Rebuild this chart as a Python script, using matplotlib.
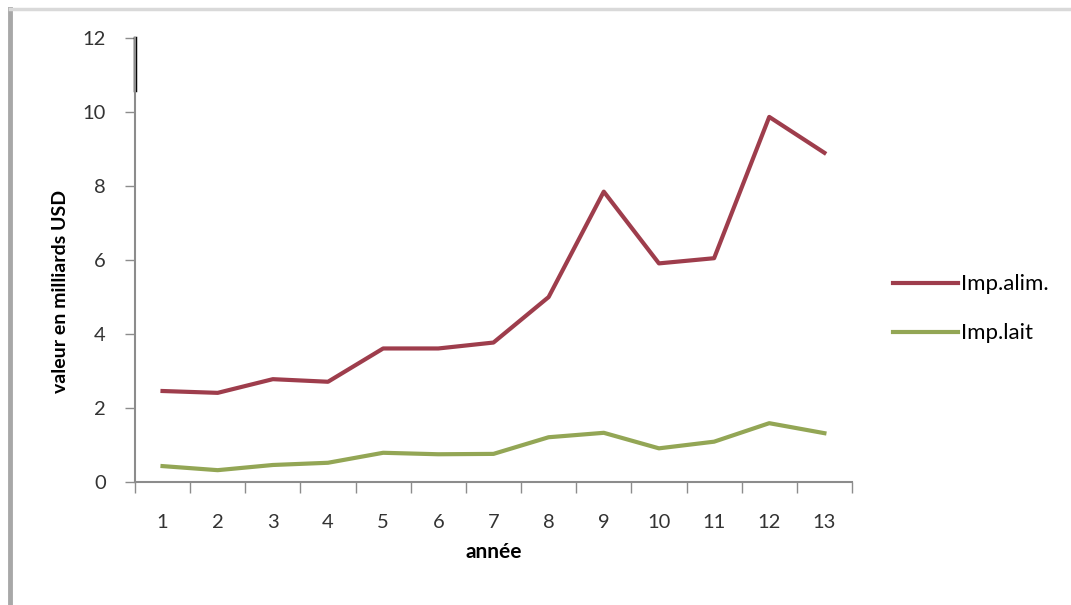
import matplotlib.pyplot as plt
from matplotlib.lines import Line2D

# Valeurs des importations (milliards USD) par annee
annees = list(range(1, 14))
imp_alim = [2.46, 2.41, 2.78, 2.71, 3.61, 3.61, 3.77, 5.0, 7.85, 5.91, 6.05, 9.87, 8.9]
imp_lait = [0.43, 0.32, 0.46, 0.52, 0.79, 0.75, 0.76, 1.21, 1.33, 0.91, 1.09, 1.59, 1.32]
y_ticks = [0, 2, 4, 6, 8, 10, 12]

rouge = '#9e3d4c'
vert = '#93a655'

plt.rcParams['font.family'] = ['Lato', 'DejaVu Sans']

fig = plt.figure(figsize=(10.71, 6.05), dpi=100)
ax = fig.add_axes([0.126, 0.2033, 0.6695, 0.7337])

ax.plot(annees, imp_alim, color=rouge, lw=3, label='Imp.alim.')
ax.plot(annees, imp_lait, color=vert, lw=3, label='Imp.lait')

ax.set_xlim(0.5, 13.5)
ax.set_ylim(0, 12)

# axes style tableur
for s in ['top', 'right']:
    ax.spines[s].set_visible(False)
ax.spines['left'].set_color('#8c8c8c')
ax.spines['bottom'].set_color('#8c8c8c')
ax.spines['left'].set_linewidth(1.5)
ax.spines['bottom'].set_linewidth(1.5)
ax.axvline(0.5, ymin=10.6 / 12, ymax=1, color='black', lw=2.5, clip_on=False)

ax.set_yticks(y_ticks)
ax.tick_params(axis='y', length=7, width=1, color='#8c8c8c', pad=14,
               labelsize=14.5, labelcolor='#333333')
ax.set_xticks(annees)
ax.set_xticks([a + 0.5 for a in range(0, 14)], minor=True)
ax.tick_params(axis='x', which='major', length=0, pad=23, labelsize=14.5,
               labelcolor='#333333')
ax.tick_params(axis='x', which='minor', length=8, width=1, color='#8c8c8c')

ax.set_ylabel('valeur en milliards USD', fontsize=14, fontweight='bold')
ax.yaxis.set_label_coords(-0.092, 0.43)
ax.set_xlabel('année', fontsize=15, fontweight='bold', labelpad=8)

ax.legend(loc='center left', bbox_to_anchor=(1.03, 0.39), frameon=False,
          fontsize=16, handlelength=2.9, handletextpad=0.15, labelspacing=1.3)

# cadre de la zone graphique
fig.add_artist(Line2D([0.009, 0.009], [0.0, 0.985], color='#a8a8a8', lw=3.5))
fig.add_artist(Line2D([0.009, 1.0], [0.985, 0.985], color='#d9d9d9', lw=2.5))

fig.savefig('out.png', dpi=100)
